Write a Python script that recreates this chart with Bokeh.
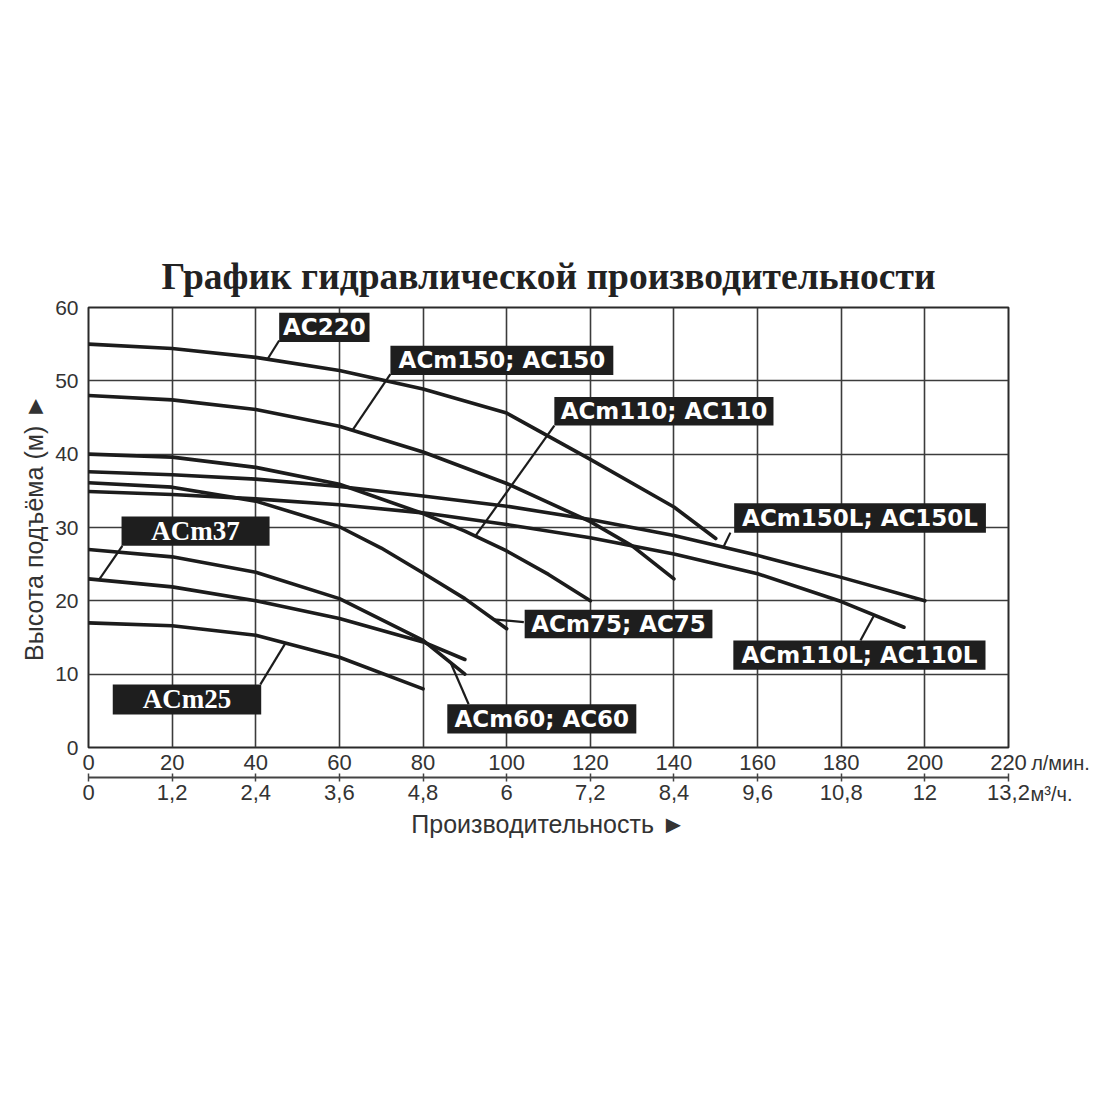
import numpy as np
from bokeh.plotting import figure
from bokeh.layouts import row
from bokeh.models import LinearAxis, FixedTicker, Title, Range1d
from bokeh.core.properties import value
from bokeh.embed import file_html
from bokeh.resources import INLINE

# ---------------- data ----------------
flow_ticks = [0, 20, 40, 60, 80, 100, 120, 140, 160, 180, 200, 220]
flow_m3h_labels = ["0", "1,2", "2,4", "3,6", "4,8", "6", "7,2", "8,4", "9,6", "10,8", "12", "13,2"]
head_ticks = [0, 10, 20, 30, 40, 50, 60]
unit_lpm = "л/мин."
unit_m3h = "м³/ч."

ac220_q = [0, 20, 40, 60, 80, 100, 120, 140, 150]
ac220_h = [55, 54.4, 53.2, 51.4, 48.9, 45.6, 39.3, 32.8, 28.5]

acm150_q = [0, 20, 40, 60, 80, 100, 120, 130, 140]
acm150_h = [48, 47.4, 46.1, 43.8, 40.3, 36.0, 30.8, 27.5, 23]

acm110_q = [0, 20, 40, 60, 80, 90, 100, 110, 120]
acm110_h = [40, 39.6, 38.2, 35.9, 31.9, 29.5, 26.8, 23.6, 20]

acm150l_q = [0, 20, 40, 60, 80, 100, 120, 140, 160, 180, 200]
acm150l_h = [37.6, 37.2, 36.6, 35.6, 34.3, 32.9, 31.1, 28.9, 26.2, 23.2, 20]

acm110l_q = [0, 20, 40, 60, 80, 100, 120, 140, 160, 180, 195]
acm110l_h = [34.9, 34.5, 33.9, 33.1, 32.0, 30.4, 28.6, 26.4, 23.7, 19.9, 16.4]

acm75_q = [0, 20, 40, 60, 70, 80, 90, 100]
acm75_h = [36.1, 35.5, 33.6, 30.1, 27.2, 23.8, 20.3, 16.2]

acm60_q = [0, 20, 40, 60, 80, 90]
acm60_h = [27, 26, 23.9, 20.3, 14.6, 10]

acm37_q = [0, 20, 40, 60, 80, 90]
acm37_h = [23, 21.9, 20, 17.6, 14.4, 12]

acm25_q = [0, 20, 40, 60, 80]
acm25_h = [17, 16.6, 15.3, 12.3, 8]

curve_names = ["AC220", "ACm150; AC150", "ACm110; AC110", "ACm150L; AC150L",
               "ACm110L; AC110L", "ACm75; AC75", "ACm60; AC60", "ACm37", "ACm25"]
curves = [(ac220_q, ac220_h), (acm150_q, acm150_h), (acm110_q, acm110_h),
          (acm150l_q, acm150l_h), (acm110l_q, acm110l_h), (acm75_q, acm75_h),
          (acm60_q, acm60_h), (acm37_q, acm37_h), (acm25_q, acm25_h)]

# label layout (annotation placement, data units): box left, top, right, bottom,
# leader start (q, h), leader target q on the curve
label_layout = [
    (45.6, 59.3, 67.2, 55.3, 45.6, 55.5, 42.8),
    (72.2, 54.8, 125.5, 50.8, 72.2, 50.9, 63.1),
    (111.4, 47.8, 163.8, 43.9, 111.4, 43.9, 92.5),
    (154.4, 33.3, 214.6, 29.3, 153.5, 29.3, 151.8),
    (154.2, 14.6, 214.5, 10.6, 184.6, 14.6, 187.9),
    (104.3, 18.8, 149.2, 14.9, 104.1, 17.1, 96.9),
    (85.8, 5.9, 131.0, 1.9, 90.9, 5.9, 86.6),
    (7.9, 31.5, 43.3, 27.5, 8.1, 27.5, 2.5),
    (5.8, 8.6, 41.3, 4.5, 41.1, 8.6, 47.1),
]
label_serif = [False, False, False, False, False, False, False, True, True]

TOTAL_H = 1097
TXT = "#333333"

# ---------------- main figure ----------------
p = figure(frame_width=920, frame_height=440, output_backend="svg", toolbar_location=None,
           x_range=Range1d(0, 220), y_range=Range1d(0, 60),
           x_axis_location=None, y_axis_location=None,
           min_border_left=88, min_border_right=22, min_border_top=307,
           min_border_bottom=TOTAL_H - 307 - 440,
           background_fill_color="white", border_fill_color="white")

p.outline_line_color = "#2a2a2a"
p.outline_line_width = 2

title = Title(text="График гидравлической производительности", align="center",
              text_font="Liberation Serif", text_font_style="bold", text_font_size="37.5px",
              text_color="#222222", standoff=21)
p.add_layout(title, "above")

yax = LinearAxis(ticker=FixedTicker(ticks=head_ticks), axis_label="Высота подъёма (м) ►",
                 axis_line_color=None, major_tick_line_color=None, minor_tick_line_color=None,
                 major_tick_in=0, major_tick_out=0, major_label_standoff=10,
                 major_label_text_font="Liberation Sans", major_label_text_font_size="21px",
                 major_label_text_color=TXT,
                 axis_label_text_font="Liberation Sans", axis_label_text_font_size="25px",
                 axis_label_text_font_style="normal", axis_label_text_color=TXT,
                 axis_label_standoff=4)
p.add_layout(yax, "left")

xax1 = LinearAxis(ticker=FixedTicker(ticks=flow_ticks),
                  axis_line_color=None, major_tick_line_color=None, minor_tick_line_color=None,
                  major_tick_in=0, major_tick_out=0, major_label_standoff=7,
                  major_label_text_font="Liberation Sans", major_label_text_font_size="22px",
                  major_label_text_color=TXT,
                  axis_label="\u00a0", axis_label_text_font_size="2px", axis_label_standoff=0)
p.add_layout(xax1, "below")

xax2 = LinearAxis(ticker=FixedTicker(ticks=flow_ticks),
                  major_label_overrides={t: s for t, s in zip(flow_ticks, flow_m3h_labels)},
                  axis_line_color="#444444", axis_line_width=2,
                  major_tick_line_color="#444444", major_tick_line_width=1.5,
                  minor_tick_line_color=None,
                  major_tick_in=4, major_tick_out=4, major_label_standoff=3,
                  major_label_text_font="Liberation Sans", major_label_text_font_size="22px",
                  major_label_text_color=TXT,
                  axis_label="Производительность ►",
                  axis_label_text_font="Liberation Sans", axis_label_text_font_size="25px",
                  axis_label_text_font_style="normal", axis_label_text_color=TXT,
                  axis_label_standoff=7)
p.add_layout(xax2, "below")

p.xgrid.ticker = FixedTicker(ticks=flow_ticks)
p.ygrid.ticker = FixedTicker(ticks=head_ticks)
p.xgrid.grid_line_color = "#3c3c3c"
p.ygrid.grid_line_color = "#3c3c3c"
p.xgrid.grid_line_width = 1.6
p.ygrid.grid_line_width = 1.6

for (q, h) in curves:
    p.line(q, h, line_color="#1c1c1c", line_width=3.6, line_join="round", line_cap="round")

for name, (bl, bt, br, bb, sq, sh, tq), serif, (q, h) in zip(curve_names, label_layout, label_serif, curves):
    th = float(np.interp(tq, q, h))
    p.segment(x0=[sq], y0=[sh], x1=[tq], y1=[th], line_color="#1c1c1c", line_width=2.2)
    p.quad(left=[bl], right=[br], top=[bt], bottom=[bb], fill_color="#1e1e1e", line_color=None)
    if serif:
        p.text(x=[(bl + br) / 2], y=[(bt + bb) / 2], text=[name], text_align="center",
               text_baseline="middle", text_color="white", text_font=value("Liberation Serif"),
               text_font_style="bold", text_font_size="27px")
    else:
        p.text(x=[(bl + br) / 2], y=[(bt + bb) / 2], text=[name], text_align="center",
               text_baseline="middle", text_color="white", text_font=value("DejaVu Sans"),
               text_font_style="bold", text_font_size="23px")

# ---------------- side strip: unit captions drawn as axis tick labels ----------------
side = figure(frame_width=66, frame_height=440, output_backend="svg", toolbar_location=None,
              x_range=Range1d(0, 66), y_range=Range1d(0, 1),
              x_axis_location=None, y_axis_location=None,
              min_border_left=0, min_border_right=0, min_border_top=307,
              min_border_bottom=TOTAL_H - 307 - 440,
              background_fill_color="white", border_fill_color="white")
side.outline_line_color = None
side.xgrid.visible = False
side.ygrid.visible = False

sax1 = LinearAxis(ticker=FixedTicker(ticks=[30]), major_label_overrides={30: unit_lpm},
                  axis_line_color=None, major_tick_line_color=None, minor_tick_line_color=None,
                  major_tick_in=0, major_tick_out=0, major_label_standoff=4,
                  major_label_text_font="Liberation Sans", major_label_text_font_size="20px",
                  major_label_text_color=TXT,
                  axis_label="\u00a0", axis_label_text_font_size="2px", axis_label_standoff=0)
side.add_layout(sax1, "below")
sax2 = LinearAxis(ticker=FixedTicker(ticks=[21]), major_label_overrides={21: unit_m3h},
                  axis_line_color=None, major_tick_line_color=None, minor_tick_line_color=None,
                  major_tick_in=0, major_tick_out=0, major_label_standoff=1,
                  major_label_text_font="Liberation Sans", major_label_text_font_size="20px",
                  major_label_text_color=TXT)
side.add_layout(sax2, "below")

layout = row(p, side, spacing=0)
open("out.html", "w").write(file_html(layout, INLINE))
